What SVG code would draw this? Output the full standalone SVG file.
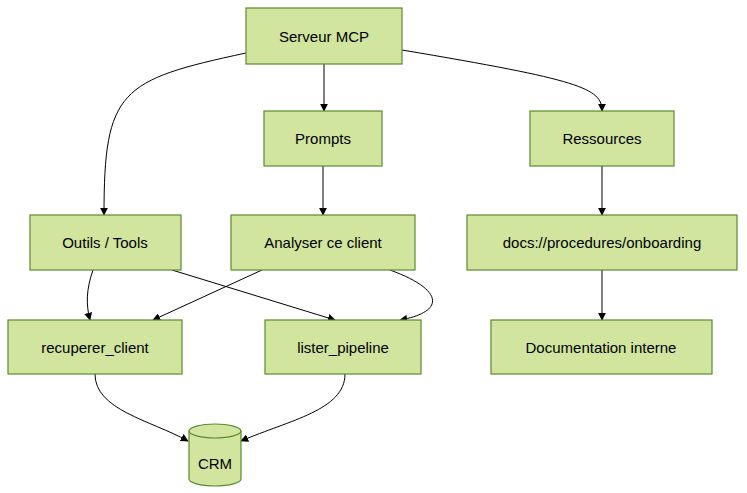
<svg xmlns="http://www.w3.org/2000/svg" width="747" height="493" viewBox="0 0 747 493">
<style>
.n{fill:#d1e59f;stroke:#5a8a2e;stroke-width:1.2}
.t{font-family:"Liberation Sans",Arial,sans-serif;font-size:15px;fill:#000;text-anchor:middle;dominant-baseline:central}
.c{fill:none;stroke:#000;stroke-width:1;marker-end:url(#a)}
</style>
<defs><marker id="a" viewBox="0 0 10 10" refX="9" refY="5" markerWidth="8" markerHeight="8" markerUnits="userSpaceOnUse" orient="auto"><path d="M0,0L10,5L0,10z" fill="#000"/></marker></defs>
<rect width="747" height="493" fill="#fff"/>
<g id="connectors">
<path class="c" d="M246,53 C120,80 104,90 104,215"/>
<path class="c" d="M324,64 L324,111"/>
<path class="c" d="M402,50 C580,80 602,88 602,111"/>
<path class="c" d="M323,166 L323,215"/>
<path class="c" d="M602,166 L602,215"/>
<path class="c" d="M602,270 L602,320"/>
<path class="c" d="M93,270 C86,290 86,305 90,320"/>
<path class="c" d="M172,270 L335,320"/>
<path class="c" d="M262,270 L153,320"/>
<path class="c" d="M390,270 C445,290 445,312 400,320"/>
<path class="c" d="M95,374 C95,410 150,420 188,441"/>
<path class="c" d="M345,374 C345,410 290,420 241,441"/>
</g>
<g id="mcp"><rect class="n" x="246" y="8" width="156" height="56"/><text class="t" x="324" y="36">Serveur MCP</text></g>
<g id="prompts"><rect class="n" x="264" y="111" width="118" height="55"/><text class="t" x="323" y="138">Prompts</text></g>
<g id="ressources"><rect class="n" x="530" y="111" width="144" height="55"/><text class="t" x="602" y="138">Ressources</text></g>
<g id="outils"><rect class="n" x="30" y="215" width="151" height="55"/><text class="t" x="105" y="242">Outils / Tools</text></g>
<g id="analyser"><rect class="n" x="231" y="215" width="184" height="55"/><text class="t" x="323" y="242">Analyser ce client</text></g>
<g id="docs"><rect class="n" x="467" y="215" width="270" height="55"/><text class="t" x="602" y="242">docs://procedures/onboarding</text></g>
<g id="recuperer"><rect class="n" x="8" y="320" width="174" height="54"/><text class="t" x="95" y="347">recuperer_client</text></g>
<g id="lister"><rect class="n" x="265" y="320" width="156" height="54"/><text class="t" x="343" y="347">lister_pipeline</text></g>
<g id="doc"><rect class="n" x="491" y="320" width="221" height="54"/><text class="t" x="601" y="347">Documentation interne</text></g>
<g id="crm">
<path class="n" d="M189,431 A26,7 0 0 1 241,431 L241,479 A26,7 0 0 1 189,479 Z"/>
<path d="M189,431 A26,7 0 0 0 241,431" fill="none" stroke="#5a8a2e" stroke-width="1.2"/>
<text class="t" x="215" y="463">CRM</text>
</g>
</svg>
